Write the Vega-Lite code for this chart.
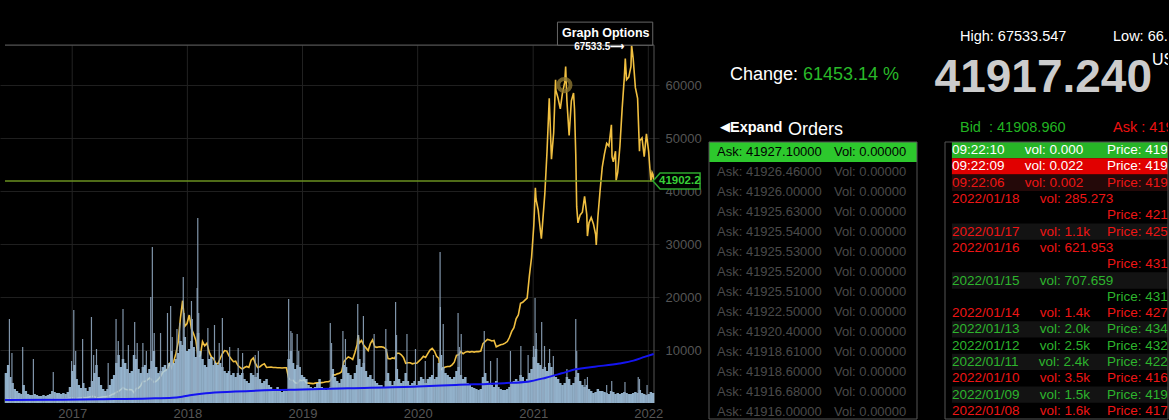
{
  "$schema": "https://vega.github.io/schema/vega-lite/v6.json",
  "background": "#000000",
  "padding": 0,
  "spacing": 50,
  "bounds": "flush",
  "config": {
    "view": {"stroke": null},
    "text": {"font": "Liberation Sans"}
  },
  "datasets": {
    "px": [
      {"d":"2016-06-05","p":580},{"d":"2016-06-12","p":690},{"d":"2016-06-19","p":740},{"d":"2016-06-26","p":660},
      {"d":"2016-07-03","p":680},{"d":"2016-07-10","p":650},{"d":"2016-07-17","p":670},{"d":"2016-07-24","p":655},{"d":"2016-07-31","p":620},
      {"d":"2016-08-07","p":590},{"d":"2016-08-14","p":570},{"d":"2016-08-21","p":580},{"d":"2016-08-28","p":575},
      {"d":"2016-09-04","p":610},{"d":"2016-09-11","p":605},{"d":"2016-09-18","p":610},{"d":"2016-09-25","p":600},
      {"d":"2016-10-02","p":612},{"d":"2016-10-09","p":618},{"d":"2016-10-16","p":640},{"d":"2016-10-23","p":655},{"d":"2016-10-30","p":700},
      {"d":"2016-11-06","p":710},{"d":"2016-11-13","p":705},{"d":"2016-11-20","p":735},{"d":"2016-11-27","p":735},
      {"d":"2016-12-04","p":765},{"d":"2016-12-11","p":770},{"d":"2016-12-18","p":790},{"d":"2016-12-25","p":900},
      {"d":"2017-01-01","p":1000},{"d":"2017-01-08","p":900},{"d":"2017-01-15","p":830},{"d":"2017-01-22","p":920},{"d":"2017-01-29","p":920},
      {"d":"2017-02-05","p":1020},{"d":"2017-02-12","p":1000},{"d":"2017-02-19","p":1055},{"d":"2017-02-26","p":1180},
      {"d":"2017-03-05","p":1270},{"d":"2017-03-12","p":1230},{"d":"2017-03-19","p":1000},{"d":"2017-03-26","p":970},
      {"d":"2017-04-02","p":1080},{"d":"2017-04-09","p":1180},{"d":"2017-04-16","p":1180},{"d":"2017-04-23","p":1250},{"d":"2017-04-30","p":1350},
      {"d":"2017-05-07","p":1600},{"d":"2017-05-14","p":1750},{"d":"2017-05-21","p":2050},{"d":"2017-05-28","p":2200},
      {"d":"2017-06-04","p":2500},{"d":"2017-06-11","p":2900},{"d":"2017-06-18","p":2600},{"d":"2017-06-25","p":2500},
      {"d":"2017-07-02","p":2550},{"d":"2017-07-09","p":2500},{"d":"2017-07-16","p":1950},{"d":"2017-07-23","p":2750},{"d":"2017-07-30","p":2800},
      {"d":"2017-08-06","p":3250},{"d":"2017-08-13","p":4100},{"d":"2017-08-20","p":4050},{"d":"2017-08-27","p":4350},
      {"d":"2017-09-03","p":4700},{"d":"2017-09-10","p":4400},{"d":"2017-09-17","p":3900},{"d":"2017-09-24","p":4100},
      {"d":"2017-10-01","p":4500},{"d":"2017-10-08","p":5000},{"d":"2017-10-15","p":5800},{"d":"2017-10-22","p":6100},{"d":"2017-10-29","p":6300},
      {"d":"2017-11-05","p":7400},{"d":"2017-11-12","p":6600},{"d":"2017-11-19","p":7900},{"d":"2017-11-26","p":9400},
      {"d":"2017-12-03","p":11500},{"d":"2017-12-10","p":16000},{"d":"2017-12-17","p":19300},{"d":"2017-12-24","p":14500},{"d":"2017-12-31","p":15000},
      {"d":"2018-01-07","p":16600},{"d":"2018-01-14","p":14000},{"d":"2018-01-21","p":13000},{"d":"2018-01-28","p":11800},
      {"d":"2018-02-04","p":8700},{"d":"2018-02-11","p":8900},{"d":"2018-02-18","p":11600},{"d":"2018-02-25","p":10800},
      {"d":"2018-03-04","p":11300},{"d":"2018-03-11","p":9600},{"d":"2018-03-18","p":8700},{"d":"2018-03-25","p":8400},
      {"d":"2018-04-01","p":7500},{"d":"2018-04-08","p":7400},{"d":"2018-04-15","p":8400},{"d":"2018-04-22","p":9300},{"d":"2018-04-29","p":9900},
      {"d":"2018-05-06","p":9800},{"d":"2018-05-13","p":8900},{"d":"2018-05-20","p":8300},{"d":"2018-05-27","p":7800},
      {"d":"2018-06-03","p":7900},{"d":"2018-06-10","p":7100},{"d":"2018-06-17","p":6700},{"d":"2018-06-24","p":6400},
      {"d":"2018-07-01","p":6700},{"d":"2018-07-08","p":6900},{"d":"2018-07-15","p":6700},{"d":"2018-07-22","p":8100},{"d":"2018-07-29","p":8500},
      {"d":"2018-08-05","p":7400},{"d":"2018-08-12","p":6700},{"d":"2018-08-19","p":6850},{"d":"2018-08-26","p":7200},
      {"d":"2018-09-02","p":7400},{"d":"2018-09-09","p":6700},{"d":"2018-09-16","p":6750},{"d":"2018-09-23","p":6800},{"d":"2018-09-30","p":6700},
      {"d":"2018-10-07","p":6700},{"d":"2018-10-14","p":6650},{"d":"2018-10-21","p":6650},{"d":"2018-10-28","p":6600},
      {"d":"2018-11-04","p":6650},{"d":"2018-11-11","p":6650},{"d":"2018-11-18","p":4700},{"d":"2018-11-25","p":4300},
      {"d":"2018-12-02","p":4300},{"d":"2018-12-09","p":3800},{"d":"2018-12-16","p":3700},{"d":"2018-12-23","p":4300},{"d":"2018-12-30","p":4200},
      {"d":"2019-01-06","p":4400},{"d":"2019-01-13","p":3800},{"d":"2019-01-20","p":3750},{"d":"2019-01-27","p":3700},
      {"d":"2019-02-03","p":3650},{"d":"2019-02-10","p":3750},{"d":"2019-02-17","p":3800},{"d":"2019-02-24","p":3800},
      {"d":"2019-03-03","p":3850},{"d":"2019-03-10","p":3900},{"d":"2019-03-17","p":4000},{"d":"2019-03-24","p":4000},{"d":"2019-03-31","p":4200},
      {"d":"2019-04-07","p":5300},{"d":"2019-04-14","p":5300},{"d":"2019-04-21","p":5500},{"d":"2019-04-28","p":5600},
      {"d":"2019-05-05","p":5900},{"d":"2019-05-12","p":7800},{"d":"2019-05-19","p":8300},{"d":"2019-05-26","p":8700},
      {"d":"2019-06-02","p":8500},{"d":"2019-06-09","p":8200},{"d":"2019-06-16","p":9500},{"d":"2019-06-23","p":11000},{"d":"2019-06-26","p":12800},{"d":"2019-06-30","p":11300},
      {"d":"2019-07-07","p":11800},{"d":"2019-07-14","p":10900},{"d":"2019-07-21","p":10400},{"d":"2019-07-28","p":9900},
      {"d":"2019-08-04","p":11200},{"d":"2019-08-11","p":11900},{"d":"2019-08-18","p":10600},{"d":"2019-08-25","p":10500},
      {"d":"2019-09-01","p":10600},{"d":"2019-09-08","p":10600},{"d":"2019-09-15","p":10500},{"d":"2019-09-22","p":10200},{"d":"2019-09-29","p":8400},
      {"d":"2019-10-06","p":8300},{"d":"2019-10-13","p":8500},{"d":"2019-10-20","p":8400},{"d":"2019-10-27","p":9400},
      {"d":"2019-11-03","p":9400},{"d":"2019-11-10","p":9100},{"d":"2019-11-17","p":8600},{"d":"2019-11-24","p":7500},
      {"d":"2019-12-01","p":7600},{"d":"2019-12-08","p":7600},{"d":"2019-12-15","p":7400},{"d":"2019-12-22","p":7500},{"d":"2019-12-29","p":7500},
      {"d":"2020-01-05","p":7900},{"d":"2020-01-12","p":8300},{"d":"2020-01-19","p":8800},{"d":"2020-01-26","p":8600},
      {"d":"2020-02-02","p":9300},{"d":"2020-02-09","p":10000},{"d":"2020-02-16","p":10300},{"d":"2020-02-23","p":9800},
      {"d":"2020-03-01","p":8800},{"d":"2020-03-08","p":8400},{"d":"2020-03-12","p":6200},{"d":"2020-03-15","p":6300},{"d":"2020-03-22","p":6600},{"d":"2020-03-29","p":6800},
      {"d":"2020-04-05","p":6900},{"d":"2020-04-12","p":6900},{"d":"2020-04-19","p":7200},{"d":"2020-04-26","p":7700},
      {"d":"2020-05-03","p":9000},{"d":"2020-05-10","p":9100},{"d":"2020-05-17","p":9700},{"d":"2020-05-24","p":9300},{"d":"2020-05-31","p":9600},
      {"d":"2020-06-07","p":9700},{"d":"2020-06-14","p":9600},{"d":"2020-06-21","p":9700},{"d":"2020-06-28","p":9600},
      {"d":"2020-07-05","p":9700},{"d":"2020-07-12","p":9700},{"d":"2020-07-19","p":9800},{"d":"2020-07-26","p":11200},
      {"d":"2020-08-02","p":11600},{"d":"2020-08-09","p":12000},{"d":"2020-08-16","p":11900},{"d":"2020-08-23","p":11700},{"d":"2020-08-30","p":11800},
      {"d":"2020-09-06","p":10600},{"d":"2020-09-13","p":10800},{"d":"2020-09-20","p":11000},{"d":"2020-09-27","p":11100},
      {"d":"2020-10-04","p":11300},{"d":"2020-10-11","p":11600},{"d":"2020-10-18","p":12400},{"d":"2020-10-25","p":13500},
      {"d":"2020-11-01","p":14200},{"d":"2020-11-08","p":15900},{"d":"2020-11-15","p":16600},{"d":"2020-11-22","p":18800},{"d":"2020-11-29","p":19000},
      {"d":"2020-12-06","p":19400},{"d":"2020-12-13","p":19800},{"d":"2020-12-20","p":24000},{"d":"2020-12-27","p":27500},
      {"d":"2021-01-03","p":33500},{"d":"2021-01-08","p":40600},{"d":"2021-01-10","p":38500},{"d":"2021-01-17","p":36400},{"d":"2021-01-24","p":32500},{"d":"2021-01-27","p":31000},{"d":"2021-01-31","p":34000},
      {"d":"2021-02-07","p":39500},{"d":"2021-02-14","p":47500},{"d":"2021-02-21","p":57500},{"d":"2021-02-28","p":46000},
      {"d":"2021-03-07","p":51000},{"d":"2021-03-13","p":61000},{"d":"2021-03-14","p":59000},{"d":"2021-03-21","p":57500},{"d":"2021-03-28","p":55500},
      {"d":"2021-04-04","p":58500},{"d":"2021-04-11","p":60500},{"d":"2021-04-14","p":63500},{"d":"2021-04-18","p":57000},{"d":"2021-04-25","p":50500},
      {"d":"2021-05-02","p":57000},{"d":"2021-05-09","p":58500},{"d":"2021-05-12","p":55500},{"d":"2021-05-16","p":47000},{"d":"2021-05-19","p":37000},{"d":"2021-05-23","p":34000},{"d":"2021-05-30","p":35500},
      {"d":"2021-06-06","p":36000},{"d":"2021-06-13","p":39000},{"d":"2021-06-20","p":35500},{"d":"2021-06-22","p":31500},{"d":"2021-06-27","p":34000},
      {"d":"2021-07-04","p":35000},{"d":"2021-07-11","p":33800},{"d":"2021-07-18","p":31800},{"d":"2021-07-20","p":29800},{"d":"2021-07-25","p":35000},
      {"d":"2021-08-01","p":40000},{"d":"2021-08-08","p":44500},{"d":"2021-08-15","p":47000},{"d":"2021-08-22","p":49000},{"d":"2021-08-29","p":48500},
      {"d":"2021-09-06","p":52500},{"d":"2021-09-08","p":46500},{"d":"2021-09-12","p":45500},{"d":"2021-09-19","p":47500},{"d":"2021-09-21","p":42000},{"d":"2021-09-26","p":43500},
      {"d":"2021-10-03","p":48500},{"d":"2021-10-10","p":55500},{"d":"2021-10-17","p":61500},{"d":"2021-10-20","p":65000},{"d":"2021-10-24","p":61000},{"d":"2021-10-31","p":61500},
      {"d":"2021-11-07","p":63500},{"d":"2021-11-09","p":67533},{"d":"2021-11-14","p":65000},{"d":"2021-11-21","p":59500},{"d":"2021-11-28","p":57500},
      {"d":"2021-12-04","p":47500},{"d":"2021-12-05","p":49500},{"d":"2021-12-12","p":50000},{"d":"2021-12-19","p":46500},{"d":"2021-12-26","p":50800},
      {"d":"2022-01-02","p":47500},{"d":"2022-01-09","p":41800},{"d":"2022-01-13","p":43500},{"d":"2022-01-16","p":43100},{"d":"2022-01-18","p":41900}
    ],
    "vol": [
      {"d":"2016-06-05","v":3000},{"d":"2016-06-12","v":3800},{"d":"2016-06-19","v":2600},{"d":"2016-06-26","v":2000},
      {"d":"2016-07-03","v":1400},{"d":"2016-07-10","v":1200},{"d":"2016-07-17","v":1000},{"d":"2016-07-24","v":900},{"d":"2016-07-31","v":1800},
      {"d":"2016-08-07","v":1200},{"d":"2016-08-14","v":900},{"d":"2016-08-21","v":800},{"d":"2016-08-28","v":800},
      {"d":"2016-09-04","v":900},{"d":"2016-09-11","v":800},{"d":"2016-09-18","v":700},{"d":"2016-09-25","v":700},
      {"d":"2016-10-02","v":800},{"d":"2016-10-09","v":700},{"d":"2016-10-16","v":800},{"d":"2016-10-23","v":900},{"d":"2016-10-30","v":1200},
      {"d":"2016-11-06","v":1100},{"d":"2016-11-13","v":1000},{"d":"2016-11-20","v":1000},{"d":"2016-11-27","v":900},
      {"d":"2016-12-04","v":1000},{"d":"2016-12-11","v":900},{"d":"2016-12-18","v":1100},{"d":"2016-12-25","v":1600},
      {"d":"2017-01-01","v":3200},{"d":"2017-01-08","v":3800},{"d":"2017-01-15","v":2400},{"d":"2017-01-22","v":1800},{"d":"2017-01-29","v":1500},
      {"d":"2017-02-05","v":2000},{"d":"2017-02-12","v":1500},{"d":"2017-02-19","v":1200},{"d":"2017-02-26","v":1600},
      {"d":"2017-03-05","v":2200},{"d":"2017-03-12","v":3000},{"d":"2017-03-19","v":3800},{"d":"2017-03-26","v":2600},
      {"d":"2017-04-02","v":1800},{"d":"2017-04-09","v":1400},{"d":"2017-04-16","v":1200},{"d":"2017-04-23","v":1400},{"d":"2017-04-30","v":1800},
      {"d":"2017-05-07","v":2400},{"d":"2017-05-14","v":2800},{"d":"2017-05-21","v":4000},{"d":"2017-05-28","v":4800},
      {"d":"2017-06-04","v":3600},{"d":"2017-06-11","v":4400},{"d":"2017-06-18","v":4000},{"d":"2017-06-25","v":3400},
      {"d":"2017-07-02","v":3000},{"d":"2017-07-09","v":3200},{"d":"2017-07-16","v":4800},{"d":"2017-07-23","v":4400},{"d":"2017-07-30","v":3400},
      {"d":"2017-08-06","v":3000},{"d":"2017-08-13","v":3600},{"d":"2017-08-20","v":3800},{"d":"2017-08-27","v":3000},
      {"d":"2017-09-03","v":3400},{"d":"2017-09-10","v":4200},{"d":"2017-09-17","v":5200},{"d":"2017-09-24","v":3600},
      {"d":"2017-10-01","v":3000},{"d":"2017-10-08","v":3200},{"d":"2017-10-15","v":3600},{"d":"2017-10-22","v":3800},{"d":"2017-10-29","v":3400},
      {"d":"2017-11-05","v":4000},{"d":"2017-11-12","v":5200},{"d":"2017-11-19","v":4000},{"d":"2017-11-26","v":4400},
      {"d":"2017-12-03","v":5000},{"d":"2017-12-10","v":6200},{"d":"2017-12-17","v":5800},{"d":"2017-12-24","v":6600},{"d":"2017-12-31","v":5200},
      {"d":"2018-01-07","v":5400},{"d":"2018-01-14","v":6200},{"d":"2018-01-21","v":5600},{"d":"2018-01-28","v":4600},
      {"d":"2018-02-04","v":7000},{"d":"2018-02-11","v":5200},{"d":"2018-02-18","v":4400},{"d":"2018-02-25","v":3800},
      {"d":"2018-03-04","v":3600},{"d":"2018-03-11","v":4400},{"d":"2018-03-18","v":4600},{"d":"2018-03-25","v":3800},
      {"d":"2018-04-01","v":4000},{"d":"2018-04-08","v":3800},{"d":"2018-04-15","v":4000},{"d":"2018-04-22","v":3600},{"d":"2018-04-29","v":3200},
      {"d":"2018-05-06","v":3000},{"d":"2018-05-13","v":3200},{"d":"2018-05-20","v":2800},{"d":"2018-05-27","v":3000},
      {"d":"2018-06-03","v":2600},{"d":"2018-06-10","v":3000},{"d":"2018-06-17","v":2800},{"d":"2018-06-24","v":3000},
      {"d":"2018-07-01","v":2400},{"d":"2018-07-08","v":2200},{"d":"2018-07-15","v":2000},{"d":"2018-07-22","v":3000},{"d":"2018-07-29","v":2800},
      {"d":"2018-08-05","v":2600},{"d":"2018-08-12","v":3000},{"d":"2018-08-19","v":2400},{"d":"2018-08-26","v":2000},
      {"d":"2018-09-02","v":2200},{"d":"2018-09-09","v":2400},{"d":"2018-09-16","v":1800},{"d":"2018-09-23","v":1600},{"d":"2018-09-30","v":1400},
      {"d":"2018-10-07","v":1200},{"d":"2018-10-14","v":1600},{"d":"2018-10-21","v":1200},{"d":"2018-10-28","v":1100},
      {"d":"2018-11-04","v":1200},{"d":"2018-11-11","v":1200},{"d":"2018-11-18","v":4400},{"d":"2018-11-25","v":5200},
      {"d":"2018-12-02","v":4000},{"d":"2018-12-09","v":3400},{"d":"2018-12-16","v":3800},{"d":"2018-12-23","v":3600},{"d":"2018-12-30","v":2800},
      {"d":"2019-01-06","v":2600},{"d":"2019-01-13","v":2400},{"d":"2019-01-20","v":1800},{"d":"2019-01-27","v":1600},
      {"d":"2019-02-03","v":1500},{"d":"2019-02-10","v":1600},{"d":"2019-02-17","v":2000},{"d":"2019-02-24","v":2400},
      {"d":"2019-03-03","v":1600},{"d":"2019-03-10","v":1400},{"d":"2019-03-17","v":1300},{"d":"2019-03-24","v":1400},{"d":"2019-03-31","v":1600},
      {"d":"2019-04-07","v":3400},{"d":"2019-04-14","v":2600},{"d":"2019-04-21","v":2200},{"d":"2019-04-28","v":2000},
      {"d":"2019-05-05","v":2400},{"d":"2019-05-12","v":3800},{"d":"2019-05-19","v":3600},{"d":"2019-05-26","v":3000},
      {"d":"2019-06-02","v":2800},{"d":"2019-06-09","v":2400},{"d":"2019-06-16","v":3000},{"d":"2019-06-23","v":3800},{"d":"2019-06-30","v":4400},
      {"d":"2019-07-07","v":3600},{"d":"2019-07-14","v":4000},{"d":"2019-07-21","v":3200},{"d":"2019-07-28","v":2600},
      {"d":"2019-08-04","v":2800},{"d":"2019-08-11","v":2400},{"d":"2019-08-18","v":2200},{"d":"2019-08-25","v":2000},
      {"d":"2019-09-01","v":1800},{"d":"2019-09-08","v":1800},{"d":"2019-09-15","v":1600},{"d":"2019-09-22","v":2200},{"d":"2019-09-29","v":3000},
      {"d":"2019-10-06","v":2200},{"d":"2019-10-13","v":1800},{"d":"2019-10-20","v":2200},{"d":"2019-10-27","v":3400},
      {"d":"2019-11-03","v":2400},{"d":"2019-11-10","v":2000},{"d":"2019-11-17","v":2200},{"d":"2019-11-24","v":3000},
      {"d":"2019-12-01","v":2200},{"d":"2019-12-08","v":1800},{"d":"2019-12-15","v":2000},{"d":"2019-12-22","v":2200},{"d":"2019-12-29","v":1800},
      {"d":"2020-01-05","v":2200},{"d":"2020-01-12","v":2600},{"d":"2020-01-19","v":2400},{"d":"2020-01-26","v":2000},
      {"d":"2020-02-02","v":2400},{"d":"2020-02-09","v":2600},{"d":"2020-02-16","v":2800},{"d":"2020-02-23","v":2400},
      {"d":"2020-03-01","v":2600},{"d":"2020-03-08","v":4000},{"d":"2020-03-15","v":4800},{"d":"2020-03-22","v":3600},{"d":"2020-03-29","v":3000},
      {"d":"2020-04-05","v":2800},{"d":"2020-04-12","v":2600},{"d":"2020-04-19","v":2400},{"d":"2020-04-26","v":2600},
      {"d":"2020-05-03","v":3200},{"d":"2020-05-10","v":3600},{"d":"2020-05-17","v":2800},{"d":"2020-05-24","v":2400},{"d":"2020-05-31","v":2600},
      {"d":"2020-06-07","v":2000},{"d":"2020-06-14","v":1800},{"d":"2020-06-21","v":1600},{"d":"2020-06-28","v":1500},
      {"d":"2020-07-05","v":1400},{"d":"2020-07-12","v":1300},{"d":"2020-07-19","v":1400},{"d":"2020-07-26","v":2600},
      {"d":"2020-08-02","v":3000},{"d":"2020-08-09","v":2200},{"d":"2020-08-16","v":2000},{"d":"2020-08-23","v":1800},{"d":"2020-08-30","v":1600},
      {"d":"2020-09-06","v":2200},{"d":"2020-09-13","v":1600},{"d":"2020-09-20","v":1400},{"d":"2020-09-27","v":1300},
      {"d":"2020-10-04","v":1300},{"d":"2020-10-11","v":1400},{"d":"2020-10-18","v":1600},{"d":"2020-10-25","v":2000},
      {"d":"2020-11-01","v":2200},{"d":"2020-11-08","v":2400},{"d":"2020-11-15","v":2200},{"d":"2020-11-22","v":2800},{"d":"2020-11-29","v":2600},
      {"d":"2020-12-06","v":2200},{"d":"2020-12-13","v":2400},{"d":"2020-12-20","v":3000},{"d":"2020-12-27","v":3400},
      {"d":"2021-01-03","v":4600},{"d":"2021-01-10","v":5400},{"d":"2021-01-17","v":4000},{"d":"2021-01-24","v":3800},{"d":"2021-01-31","v":3400},
      {"d":"2021-02-07","v":3600},{"d":"2021-02-14","v":3200},{"d":"2021-02-21","v":4000},{"d":"2021-02-28","v":3600},
      {"d":"2021-03-07","v":2800},{"d":"2021-03-14","v":2600},{"d":"2021-03-21","v":2400},{"d":"2021-03-28","v":2000},
      {"d":"2021-04-04","v":1800},{"d":"2021-04-11","v":2000},{"d":"2021-04-18","v":2600},{"d":"2021-04-25","v":2400},
      {"d":"2021-05-02","v":1800},{"d":"2021-05-09","v":2000},{"d":"2021-05-16","v":2600},{"d":"2021-05-23","v":3000},{"d":"2021-05-30","v":2200},
      {"d":"2021-06-06","v":1800},{"d":"2021-06-13","v":1600},{"d":"2021-06-20","v":1800},{"d":"2021-06-27","v":1400},
      {"d":"2021-07-04","v":1200},{"d":"2021-07-11","v":1000},{"d":"2021-07-18","v":1100},{"d":"2021-07-25","v":1400},
      {"d":"2021-08-01","v":1200},{"d":"2021-08-08","v":1200},{"d":"2021-08-15","v":1100},{"d":"2021-08-22","v":1000},{"d":"2021-08-29","v":900},
      {"d":"2021-09-05","v":1200},{"d":"2021-09-12","v":1100},{"d":"2021-09-19","v":900},{"d":"2021-09-26","v":1000},
      {"d":"2021-10-03","v":900},{"d":"2021-10-10","v":1000},{"d":"2021-10-17","v":1100},{"d":"2021-10-24","v":1000},{"d":"2021-10-31","v":900},
      {"d":"2021-11-07","v":900},{"d":"2021-11-14","v":1000},{"d":"2021-11-21","v":1100},{"d":"2021-11-28","v":1000},
      {"d":"2021-12-05","v":1300},{"d":"2021-12-12","v":1000},{"d":"2021-12-19","v":900},{"d":"2021-12-26","v":800},
      {"d":"2022-01-02","v":900},{"d":"2022-01-09","v":1100},{"d":"2022-01-16","v":1000}
    ],
    "spk": [
      {"d":"2016-06-16","v":8400},{"d":"2016-06-24","v":5000},{"d":"2016-07-28","v":5600},{"d":"2016-08-31","v":4400},{"d":"2016-11-02","v":3100},
      {"d":"2016-12-30","v":4200},{"d":"2017-01-06","v":9300},{"d":"2017-01-12","v":5200},{"d":"2017-02-03","v":6400},{"d":"2017-03-03","v":8600},
      {"d":"2017-03-10","v":4800},{"d":"2017-03-19","v":5400},{"d":"2017-04-25","v":4000},{"d":"2017-05-20","v":8400},{"d":"2017-05-27","v":6200},
      {"d":"2017-06-11","v":9400},{"d":"2017-06-28","v":5800},{"d":"2017-07-18","v":8100},{"d":"2017-07-26","v":6000},{"d":"2017-08-13","v":6000},
      {"d":"2017-08-24","v":5200},{"d":"2017-09-07","v":10600},{"d":"2017-09-12","v":15600},{"d":"2017-09-18","v":7000},{"d":"2017-10-08","v":7000},
      {"d":"2017-10-30","v":9000},{"d":"2017-11-09","v":9700},{"d":"2017-11-14","v":6600},{"d":"2017-11-29","v":7400},{"d":"2017-12-08","v":8000},
      {"d":"2017-12-19","v":12600},{"d":"2017-12-22","v":9000},{"d":"2018-01-14","v":10200},{"d":"2018-01-17","v":8400},{"d":"2018-02-01","v":11500},
      {"d":"2018-02-03","v":18500},{"d":"2018-02-06","v":9000},{"d":"2018-03-07","v":7500},{"d":"2018-03-28","v":7800},{"d":"2018-04-12","v":6000},
      {"d":"2018-04-22","v":8500},{"d":"2018-05-15","v":5600},{"d":"2018-06-11","v":5500},{"d":"2018-06-25","v":5000},{"d":"2018-08-04","v":4800},
      {"d":"2018-08-14","v":5200},{"d":"2018-11-18","v":10400},{"d":"2018-11-25","v":7200},{"d":"2018-11-29","v":7000},{"d":"2018-12-15","v":6900},
      {"d":"2018-12-20","v":5200},{"d":"2019-03-30","v":8000},{"d":"2019-04-03","v":6000},{"d":"2019-05-09","v":7200},{"d":"2019-05-17","v":6400},
      {"d":"2019-06-25","v":9900},{"d":"2019-06-28","v":6800},{"d":"2019-07-13","v":8700},{"d":"2019-07-17","v":5600},{"d":"2019-08-16","v":6900},
      {"d":"2019-09-22","v":7400},{"d":"2019-09-25","v":5400},{"d":"2019-10-23","v":10100},{"d":"2019-10-26","v":6800},{"d":"2019-11-28","v":6900},
      {"d":"2019-12-25","v":5400},{"d":"2020-01-25","v":4200},{"d":"2020-02-20","v":4800},{"d":"2020-03-12","v":15100},{"d":"2020-03-13","v":9600},
      {"d":"2020-03-22","v":7900},{"d":"2020-05-08","v":9000},{"d":"2020-05-12","v":5600},{"d":"2020-05-18","v":6900},{"d":"2020-07-30","v":7200},
      {"d":"2020-08-19","v":4200},{"d":"2020-09-09","v":4500},{"d":"2020-10-21","v":5200},{"d":"2020-11-23","v":5700},{"d":"2020-12-16","v":4800},
      {"d":"2021-01-02","v":5700},{"d":"2021-01-07","v":10500},{"d":"2021-01-11","v":7000},{"d":"2021-01-28","v":8100},{"d":"2021-02-06","v":5700},
      {"d":"2021-02-22","v":5400},{"d":"2021-03-06","v":4700},{"d":"2021-04-18","v":3400},{"d":"2021-05-16","v":8400},{"d":"2021-05-19","v":5200},
      {"d":"2021-06-14","v":2400},{"d":"2021-06-22","v":2600},{"d":"2021-08-22","v":1800},{"d":"2021-09-07","v":2200},{"d":"2021-10-19","v":2100},
      {"d":"2021-11-30","v":2600},{"d":"2021-12-04","v":2400},{"d":"2021-12-28","v":1800}
    ],
    "ma": [
      {"d":"2016-06-02","p":560},{"d":"2016-12-01","p":600},{"d":"2017-04-01","p":700},{"d":"2017-09-01","p":850},
      {"d":"2017-11-15","p":1000},{"d":"2017-12-15","p":1200},{"d":"2018-01-15","p":1500},{"d":"2018-03-01","p":1850},
      {"d":"2018-06-01","p":2150},{"d":"2018-10-01","p":2450},{"d":"2019-01-01","p":2550},{"d":"2019-06-01","p":2770},
      {"d":"2020-01-01","p":3100},{"d":"2020-05-01","p":3400},{"d":"2020-10-01","p":3750},{"d":"2020-12-15","p":4020},
      {"d":"2021-02-10","p":4780},{"d":"2021-04-01","p":5600},{"d":"2021-05-15","p":6350},{"d":"2021-07-15","p":6850},
      {"d":"2021-10-01","p":7450},{"d":"2021-11-15","p":8000},{"d":"2021-12-20","p":8700},{"d":"2022-01-18","p":9250}
    ],
    "yrs": [
      {"d":"2017-01-01"},{"d":"2018-01-01"},{"d":"2019-01-01"},{"d":"2020-01-01"},{"d":"2021-01-01"},{"d":"2022-01-01"},{"d":"2022-01-19"}
    ],
    "hdr": [
      {"k":"chg","t":"Change:"},
      {"k":"chgv","t":"61453.14 %"},
      {"k":"tri","t":"◀\u00a0"},
      {"k":"exp","t":"Expand"},
      {"k":"ord","t":"Orders"},
      {"k":"high","t":"High: 67533.547"},
      {"k":"low","t":"Low: 66.880"},
      {"k":"last","t":"41917.240"},
      {"k":"cur","t":"USD"},
      {"k":"bid","t":"Bid\u00a0 : 41908.960"},
      {"k":"ask","t":"Ask : 41919.660"}
    ],
    "ord": [
      {"i":1,"p":41927.1,"v":0},{"i":2,"p":41926.46,"v":0},{"i":3,"p":41926.0,"v":0},{"i":4,"p":41925.63,"v":0},
      {"i":5,"p":41925.54,"v":0},{"i":6,"p":41925.53,"v":0},{"i":7,"p":41925.52,"v":0},{"i":8,"p":41925.51,"v":0},
      {"i":9,"p":41922.5,"v":0},{"i":10,"p":41920.4,"v":0},{"i":11,"p":41918.61,"v":0},{"i":12,"p":41918.6,"v":0},
      {"i":13,"p":41916.68,"v":0},{"i":14,"p":41916.0,"v":0}
    ],
    "trd": [
      {"ln":1,"tr":1,"side":"b","a":"09:22:10","b":"vol: 0.000","c":"Price: 41917.240"},
      {"ln":2,"tr":2,"side":"s","a":"09:22:09","b":"vol: 0.022","c":"Price: 41917.230"},
      {"ln":3,"tr":3,"side":"s","a":"09:22:06","b":"vol: 0.002","c":"Price: 41915.100"},
      {"ln":4,"tr":4,"side":"s","a":"2022/01/18","b":"vol: 285.273"},
      {"ln":5,"tr":4,"side":"s","c":"Price: 42180.530"},
      {"ln":6,"tr":5,"side":"s","a":"2022/01/17","b":"vol: 1.1k","c":"Price: 42554.200"},
      {"ln":7,"tr":6,"side":"s","a":"2022/01/16","b":"vol: 621.953"},
      {"ln":8,"tr":6,"side":"s","c":"Price: 43111.600"},
      {"ln":9,"tr":7,"side":"b","a":"2022/01/15","b":"vol: 707.659"},
      {"ln":10,"tr":7,"side":"b","c":"Price: 43150.100"},
      {"ln":11,"tr":8,"side":"s","a":"2022/01/14","b":"vol: 1.4k","c":"Price: 42760.300"},
      {"ln":12,"tr":9,"side":"b","a":"2022/01/13","b":"vol: 2.0k","c":"Price: 43430.900"},
      {"ln":13,"tr":10,"side":"b","a":"2022/01/12","b":"vol: 2.5k","c":"Price: 43205.400"},
      {"ln":14,"tr":11,"side":"b","a":"2022/01/11","b":"vol: 2.4k","c":"Price: 42218.700"},
      {"ln":15,"tr":12,"side":"s","a":"2022/01/10","b":"vol: 3.5k","c":"Price: 41610.000"},
      {"ln":16,"tr":13,"side":"b","a":"2022/01/09","b":"vol: 1.5k","c":"Price: 41902.500"},
      {"ln":17,"tr":14,"side":"s","a":"2022/01/08","b":"vol: 1.6k","c":"Price: 41718.800"}
    ],
    "box": [
      {"lo": 0, "hi": 1}
    ]
  },
  "hconcat": [
    {
      "width": 659,
      "height": 403,
      "encoding": {
        "x": {
          "field": "d",
          "type": "temporal",
          "scale": {"type": "utc", "domain": [{"year": 2016, "month": 6, "date": 2, "utc": true}, {"year": 2022, "month": 1, "date": 19, "utc": true}]},
          "axis": {
            "values": [{"year": 2017, "utc": true}, {"year": 2018, "utc": true}, {"year": 2019, "utc": true}, {"year": 2020, "utc": true}, {"year": 2021, "utc": true}, {"year": 2022, "utc": true}],
            "format": "%Y", "labelColor": "#555555", "labelFontSize": 13, "labelFont": "Liberation Sans", "ticks": false, "domain": false,
            "grid": false, "labelPadding": 4, "title": null, "labelFlush": false
          }
        }
      },
      "layer": [
        {
          "data": {"name": "yrs"},
          "mark": {"type": "rule", "strokeWidth": 1},
          "encoding": {
            "y": {"datum": 0, "type": "quantitative", "scale": {"domain": [0, 76046], "nice": false}, "axis": null},
            "y2": {"datum": 67533.5},
            "color": {"condition": {"test": "year(datum.d) == 2022 && month(datum.d) == 0 && date(datum.d) > 10", "value": "#555555"}, "value": "#222222"}
          }
        },
        {
          "data": {"name": "px"},
          "mark": {"type": "line", "color": "#f0bf40", "strokeWidth": 1.6},
          "encoding": {
            "y": {
              "field": "p", "type": "quantitative", "scale": {"domain": [0, 76046], "nice": false},
              "axis": {
                "orient": "right", "values": [10000, 20000, 30000, 40000, 50000, 60000], "format": "d",
                "labelColor": "#555555", "labelFontSize": 13, "labelFont": "Liberation Sans", "ticks": false, "domain": false,
                "grid": true, "gridColor": "#1f1f1f", "labelPadding": 6, "title": null
              }
            }
          }
        },
        {
          "data": {"name": "vol"},
          "mark": {"type": "bar", "color": "#a9cdea", "opacity": 0.85, "width": 2.5, "clip": true},
          "encoding": {"y": {"field": "v", "type": "quantitative", "scale": {"domain": [0, 40300], "nice": false}, "axis": null}}
        },
        {
          "data": {"name": "spk"},
          "mark": {"type": "bar", "color": "#8ea5bc", "opacity": 0.9, "width": 1.2, "clip": true},
          "encoding": {"y": {"field": "v", "type": "quantitative", "scale": {"domain": [0, 40300], "nice": false}, "axis": null}}
        },
        {
          "data": {"name": "ma"},
          "mark": {"type": "line", "color": "#1414f0", "strokeWidth": 2, "interpolate": "monotone"},
          "encoding": {"y": {"field": "p", "type": "quantitative", "scale": {"domain": [0, 76046], "nice": false}, "axis": null}}
        },
        {
          "data": {"values": [{"d": "2016-06-02", "d2": "2022-01-19", "p": 41902.2, "k": "last"}, {"d": "2016-06-02", "d2": "2022-01-19", "p": 67533.5, "k": "frame"}]},
          "mark": {"type": "rule", "strokeWidth": 1.4},
          "encoding": {
            "x2": {"field": "d2"},
            "y": {"field": "p", "type": "quantitative", "scale": {"domain": [0, 76046], "nice": false}, "axis": null},
            "color": {"field": "k", "type": "nominal", "scale": {"domain": ["last", "frame"], "range": ["#6a9020", "#555555"]}, "legend": null}
          }
        },
        {
          "data": {"values": [{"d": "2021-03-19", "d2": "2022-01-15"}]},
          "mark": {"type": "rect", "fill": "#000000", "stroke": "#666666", "strokeWidth": 1},
          "encoding": {
            "x2": {"field": "d2"},
            "y": {"datum": 67533.5, "type": "quantitative", "scale": {"domain": [0, 76046], "nice": false}, "axis": null},
            "y2": {"datum": 71873}
          }
        },
        {
          "data": {"values": [{"d": "2021-08-19", "t": "Graph Options"}]},
          "mark": {"type": "text", "color": "#ffffff", "fontSize": 12.5, "fontWeight": "bold", "align": "center", "baseline": "middle"},
          "encoding": {
            "y": {"datum": 69819, "type": "quantitative", "scale": {"domain": [0, 76046], "nice": false}, "axis": null},
            "text": {"field": "t"}
          }
        },
        {
          "data": {"values": [{"d": "2021-05-11", "t": "67533.5⟶"}]},
          "mark": {"type": "text", "color": "#ffffff", "fontSize": 10, "fontWeight": "bold", "align": "left", "baseline": "middle"},
          "encoding": {
            "y": {"datum": 67120, "type": "quantitative", "scale": {"domain": [0, 76046], "nice": false}, "axis": null},
            "text": {"field": "t"}
          }
        },
        {
          "data": {"values": [{"d": "2021-04-10", "p": 60000}]},
          "mark": {"type": "point", "shape": "circle", "size": 150, "filled": false, "stroke": "#8c7630", "strokeWidth": 4, "opacity": 0.8},
          "encoding": {"y": {"field": "p", "type": "quantitative", "scale": {"domain": [0, 76046], "nice": false}, "axis": null}}
        },
        {
          "data": {"values": [{"d": "2022-01-19", "p": 41902.2}]},
          "mark": {"type": "point", "shape": "M -0.04 0 L 0.26 -0.34 L 1.96 -0.34 L 1.96 0.34 L 0.26 0.34 Z", "size": 2209, "filled": true, "fill": "#000000", "stroke": "#2ea82e", "strokeWidth": 1.5, "opacity": 1},
          "encoding": {"y": {"field": "p", "type": "quantitative", "scale": {"domain": [0, 76046], "nice": false}, "axis": null}}
        },
        {
          "data": {"values": [{"d": "2022-01-19", "t": "41902.2", "p": 41902.2}]},
          "mark": {"type": "text", "color": "#38d038", "fontSize": 11.5, "fontWeight": "bold", "align": "left", "baseline": "middle", "dx": 5},
          "encoding": {
            "y": {"field": "p", "type": "quantitative", "scale": {"domain": [0, 76046], "nice": false}, "axis": null},
            "text": {"field": "t"}
          }
        }
      ],
      "resolve": {"scale": {"y": "independent"}}
    },
    {
      "spacing": 142,
      "bounds": "flush",
      "vconcat": [
        {
          "spacing": 28,
          "bounds": "flush",
          "hconcat": [
            {
              "width": 208,
              "height": 142,
              "data": {"name": "hdr"},
              "layer": [
                {
                  "transform": [{"filter": {"field": "k", "equal": "chg"}}],
                  "mark": {"type": "text", "align": "left", "baseline": "alphabetic", "fontSize": 18, "color": "#ffffff"},
                  "encoding": {
                    "x": {"datum": "a", "type": "nominal", "bandPosition": 0, "axis": null, "scale": {"type": "band", "domain": ["a", "b"], "paddingInner": 0, "paddingOuter": 0.4247, "align": 0.339}},
                    "y": {"datum": "l2", "type": "nominal", "bandPosition": 0.69, "axis": null, "scale": {"type": "band", "domain": ["l1", "l2", "l3"], "paddingInner": 0, "paddingOuter": 0}},
                    "text": {"field": "t"}
                  }
                },
                {
                  "transform": [{"filter": {"field": "k", "equal": "chgv"}}],
                  "mark": {"type": "text", "align": "left", "baseline": "alphabetic", "fontSize": 18, "color": "#29b929"},
                  "encoding": {
                    "x": {"datum": "b", "type": "nominal", "bandPosition": 0, "axis": null, "scale": {"type": "band", "domain": ["a", "b"], "paddingInner": 0, "paddingOuter": 0.4247, "align": 0.339}},
                    "y": {"datum": "l2", "type": "nominal", "bandPosition": 0.69, "axis": null, "scale": {"type": "band", "domain": ["l1", "l2", "l3"], "paddingInner": 0, "paddingOuter": 0}},
                    "text": {"field": "t"}
                  }
                },
                {
                  "transform": [{"filter": {"field": "k", "equal": "tri"}}],
                  "mark": {"type": "text", "align": "right", "baseline": "alphabetic", "fontSize": 13, "color": "#ffffff"},
                  "encoding": {
                    "x": {"datum": "a", "type": "nominal", "bandPosition": 0, "axis": null, "scale": {"type": "band", "domain": ["a", "b"], "paddingInner": 0, "paddingOuter": 0.4247, "align": 0.339}},
                    "y": {"datum": "l3", "type": "nominal", "bandPosition": 0.768, "axis": null, "scale": {"type": "band", "domain": ["l1", "l2", "l3"], "paddingInner": 0, "paddingOuter": 0}},
                    "text": {"field": "t"}
                  }
                },
                {
                  "transform": [{"filter": {"field": "k", "equal": "exp"}}],
                  "mark": {"type": "text", "align": "left", "baseline": "alphabetic", "fontSize": 14.5, "fontWeight": "bold", "color": "#ffffff"},
                  "encoding": {
                    "x": {"datum": "a", "type": "nominal", "bandPosition": 0, "axis": null, "scale": {"type": "band", "domain": ["a", "b"], "paddingInner": 0, "paddingOuter": 0.4247, "align": 0.339}},
                    "y": {"datum": "l3", "type": "nominal", "bandPosition": 0.789, "axis": null, "scale": {"type": "band", "domain": ["l1", "l2", "l3"], "paddingInner": 0, "paddingOuter": 0}},
                    "text": {"field": "t"}
                  }
                },
                {
                  "transform": [{"filter": {"field": "k", "equal": "ord"}}],
                  "mark": {"type": "text", "align": "left", "baseline": "alphabetic", "fontSize": 18, "color": "#ffffff", "dx": -15},
                  "encoding": {
                    "x": {"datum": "b", "type": "nominal", "bandPosition": 0, "axis": null, "scale": {"type": "band", "domain": ["a", "b"], "paddingInner": 0, "paddingOuter": 0.4247, "align": 0.339}},
                    "y": {"datum": "l3", "type": "nominal", "bandPosition": 0.852, "axis": null, "scale": {"type": "band", "domain": ["l1", "l2", "l3"], "paddingInner": 0, "paddingOuter": 0}},
                    "text": {"field": "t"}
                  }
                }
              ]
            },
            {
              "width": 223,
              "height": 142,
              "data": {"name": "hdr"},
              "layer": [
                {
                  "transform": [{"filter": {"field": "k", "equal": "high"}}],
                  "mark": {"type": "text", "align": "left", "baseline": "alphabetic", "fontSize": 14.5, "color": "#ffffff"},
                  "encoding": {
                    "x": {"datum": "c1", "type": "nominal", "bandPosition": 0, "axis": null, "scale": {"type": "band", "domain": ["c1", "c2"], "paddingInner": 0.745, "paddingOuter": 0.101, "align": 0.484}},
                    "y": {"datum": "l1", "type": "nominal", "bandPosition": 0.856, "axis": null, "scale": {"type": "band", "domain": ["l1", "l2", "l3"], "paddingInner": 0, "paddingOuter": 0}},
                    "text": {"field": "t"}
                  }
                },
                {
                  "transform": [{"filter": {"field": "k", "equal": "low"}}],
                  "mark": {"type": "text", "align": "left", "baseline": "alphabetic", "fontSize": 14.5, "color": "#ffffff", "clip": true},
                  "encoding": {
                    "x": {"datum": "c2", "type": "nominal", "bandPosition": 0, "axis": null, "scale": {"type": "band", "domain": ["c1", "c2"], "paddingInner": 0.745, "paddingOuter": 0.101, "align": 0.484}},
                    "y": {"datum": "l1", "type": "nominal", "bandPosition": 0.856, "axis": null, "scale": {"type": "band", "domain": ["l1", "l2", "l3"], "paddingInner": 0, "paddingOuter": 0}},
                    "text": {"field": "t"}
                  }
                },
                {
                  "transform": [{"filter": {"field": "k", "equal": "last"}}],
                  "mark": {"type": "text", "align": "right", "baseline": "alphabetic", "fontSize": 46, "fontWeight": "bold", "color": "#cccccc"},
                  "encoding": {
                    "x": {"datum": "c2", "type": "nominal", "bandPosition": 1, "axis": null, "scale": {"type": "band", "domain": ["c1", "c2"], "paddingInner": 0.745, "paddingOuter": 0.101, "align": 0.484}},
                    "y": {"datum": "l2", "type": "nominal", "bandPosition": 0.945, "axis": null, "scale": {"type": "band", "domain": ["l1", "l2", "l3"], "paddingInner": 0, "paddingOuter": 0}},
                    "text": {"field": "t"}
                  }
                },
                {
                  "transform": [{"filter": {"field": "k", "equal": "cur"}}],
                  "mark": {"type": "text", "align": "left", "baseline": "alphabetic", "fontSize": 16, "color": "#ffffff", "clip": true},
                  "encoding": {
                    "x": {"datum": "c2", "type": "nominal", "bandPosition": 1, "axis": null, "scale": {"type": "band", "domain": ["c1", "c2"], "paddingInner": 0.745, "paddingOuter": 0.101, "align": 0.484}},
                    "y": {"datum": "l2", "type": "nominal", "bandPosition": 0.374, "axis": null, "scale": {"type": "band", "domain": ["l1", "l2", "l3"], "paddingInner": 0, "paddingOuter": 0}},
                    "text": {"field": "t"}
                  }
                },
                {
                  "transform": [{"filter": {"field": "k", "equal": "bid"}}],
                  "mark": {"type": "text", "align": "left", "baseline": "alphabetic", "fontSize": 14.5, "color": "#22b422"},
                  "encoding": {
                    "x": {"datum": "c1", "type": "nominal", "bandPosition": 0, "axis": null, "scale": {"type": "band", "domain": ["c1", "c2"], "paddingInner": 0.745, "paddingOuter": 0.101, "align": 0.484}},
                    "y": {"datum": "l3", "type": "nominal", "bandPosition": 0.78, "axis": null, "scale": {"type": "band", "domain": ["l1", "l2", "l3"], "paddingInner": 0, "paddingOuter": 0}},
                    "text": {"field": "t"}
                  }
                },
                {
                  "transform": [{"filter": {"field": "k", "equal": "ask"}}],
                  "mark": {"type": "text", "align": "left", "baseline": "alphabetic", "fontSize": 14.5, "color": "#ee1111", "clip": true},
                  "encoding": {
                    "x": {"datum": "c2", "type": "nominal", "bandPosition": 0, "axis": null, "scale": {"type": "band", "domain": ["c1", "c2"], "paddingInner": 0.745, "paddingOuter": 0.101, "align": 0.484}},
                    "y": {"datum": "l3", "type": "nominal", "bandPosition": 0.78, "axis": null, "scale": {"type": "band", "domain": ["l1", "l2", "l3"], "paddingInner": 0, "paddingOuter": 0}},
                    "text": {"field": "t"}
                  }
                }
              ]
            }
          ]
        },
        {
          "spacing": 28,
          "bounds": "flush",
          "hconcat": [
            {
              "width": 208,
              "height": 277,
              "data": {"name": "ord"},
              "layer": [
                {
                  "transform": [{"filter": "datum.i == 1"}],
                  "mark": {"type": "rect", "color": "#2dc82d"},
                  "encoding": {
                    "x": {"datum": 0, "type": "quantitative", "axis": null, "scale": {"domain": [0, 1], "nice": false}},
                    "x2": {"datum": 1},
                    "y": {"field": "i", "type": "ordinal", "axis": null, "scale": {"type": "band", "domain": [1,2,3,4,5,6,7,8,9,10,11,12,13,14], "range": [0, 280], "paddingInner": 0, "paddingOuter": 0}}
                  }
                },
                {
                  "transform": [
                    {"calculate": "'Ask: ' + format(datum.p, '.5f')", "as": "at"},
                    {"calculate": "'Vol: ' + format(datum.v, '.5f')", "as": "vt"},
                    {"fold": ["at", "vt"], "as": ["col", "txt"]}
                  ],
                  "mark": {"type": "text", "align": "left", "baseline": "middle", "fontSize": 13, "clip": true},
                  "encoding": {
                    "x": {"field": "col", "type": "nominal", "bandPosition": 0, "axis": null, "scale": {"type": "band", "domain": ["at", "vt"], "paddingInner": 0.359, "paddingOuter": 0.0684, "align": 0.5}},
                    "y": {"field": "i", "type": "ordinal", "axis": null, "scale": {"type": "band", "domain": [1,2,3,4,5,6,7,8,9,10,11,12,13,14], "range": [0, 280], "paddingInner": 0, "paddingOuter": 0}},
                    "text": {"field": "txt"},
                    "color": {"condition": {"test": "datum.i == 1", "value": "#000000"}, "value": "#4a4a4a"}
                  }
                },
                {
                  "data": {"name": "box"},
                  "mark": {"type": "rect", "fillOpacity": 0, "stroke": "#555555", "strokeWidth": 1},
                  "encoding": {
                    "x": {"field": "lo", "type": "quantitative", "axis": null, "scale": {"domain": [0, 1], "nice": false}},
                    "x2": {"field": "hi"},
                    "y": {"field": "lo", "type": "quantitative", "axis": null, "scale": {"domain": [0, 1], "nice": false}},
                    "y2": {"field": "hi"}
                  }
                }
              ],
              "resolve": {"scale": {"x": "independent", "y": "independent"}}
            },
            {
              "width": 223,
              "height": 277,
              "data": {"name": "trd"},
              "layer": [
                {
                  "transform": [{"filter": "datum.tr <= 3 || (datum.a && datum.tr >= 5 && datum.tr % 2 == 1)"}],
                  "mark": {"type": "rect", "clip": true},
                  "encoding": {
                    "x": {"datum": 0.031, "type": "quantitative", "axis": null, "scale": {"domain": [0, 1], "nice": false}},
                    "x2": {"datum": 1},
                    "y": {"field": "ln", "type": "ordinal", "axis": null, "scale": {"type": "band", "domain": [1,2,3,4,5,6,7,8,9,10,11,12,13,14,15,16,17], "paddingInner": 0, "paddingOuter": 0}},
                    "color": {
                      "condition": [
                        {"test": "datum.tr == 1", "value": "#27b427"},
                        {"test": "datum.tr == 2", "value": "#e10000"},
                        {"test": "datum.tr == 3", "value": "#240909"}
                      ],
                      "value": "#131313"
                    }
                  }
                },
                {
                  "transform": [
                    {"calculate": "datum.a ? datum.a + '\u2003\u2002' + datum.b : null", "as": "ab"},
                    {"fold": ["ab", "c"], "as": ["col", "txt"]},
                    {"filter": "datum.txt != null"}
                  ],
                  "mark": {"type": "text", "align": "left", "baseline": "middle", "fontSize": 13.5, "clip": true},
                  "encoding": {
                    "x": {"field": "col", "type": "nominal", "bandPosition": 0, "axis": null, "scale": {"type": "band", "domain": ["ab", "c"], "paddingInner": 0.65, "paddingOuter": 0.0444, "align": 0.509}},
                    "y": {"field": "ln", "type": "ordinal", "axis": null, "scale": {"type": "band", "domain": [1,2,3,4,5,6,7,8,9,10,11,12,13,14,15,16,17], "paddingInner": 0, "paddingOuter": 0}},
                    "text": {"field": "txt"},
                    "color": {
                      "condition": [
                        {"test": "datum.tr <= 2", "value": "#ffffff"},
                        {"test": "datum.side == 'b'", "value": "#2db52d"}
                      ],
                      "value": "#ee1515"
                    }
                  }
                },
                {
                  "data": {"name": "box"},
                  "mark": {"type": "rect", "fillOpacity": 0, "stroke": "#555555", "strokeWidth": 1},
                  "encoding": {
                    "x": {"field": "lo", "type": "quantitative", "axis": null, "scale": {"domain": [0, 1], "nice": false}},
                    "x2": {"field": "hi"},
                    "y": {"field": "lo", "type": "quantitative", "axis": null, "scale": {"domain": [0, 1], "nice": false}},
                    "y2": {"field": "hi"}
                  }
                }
              ],
              "resolve": {"scale": {"x": "independent", "y": "independent"}}
            }
          ]
        }
      ]
    }
  ]
}
